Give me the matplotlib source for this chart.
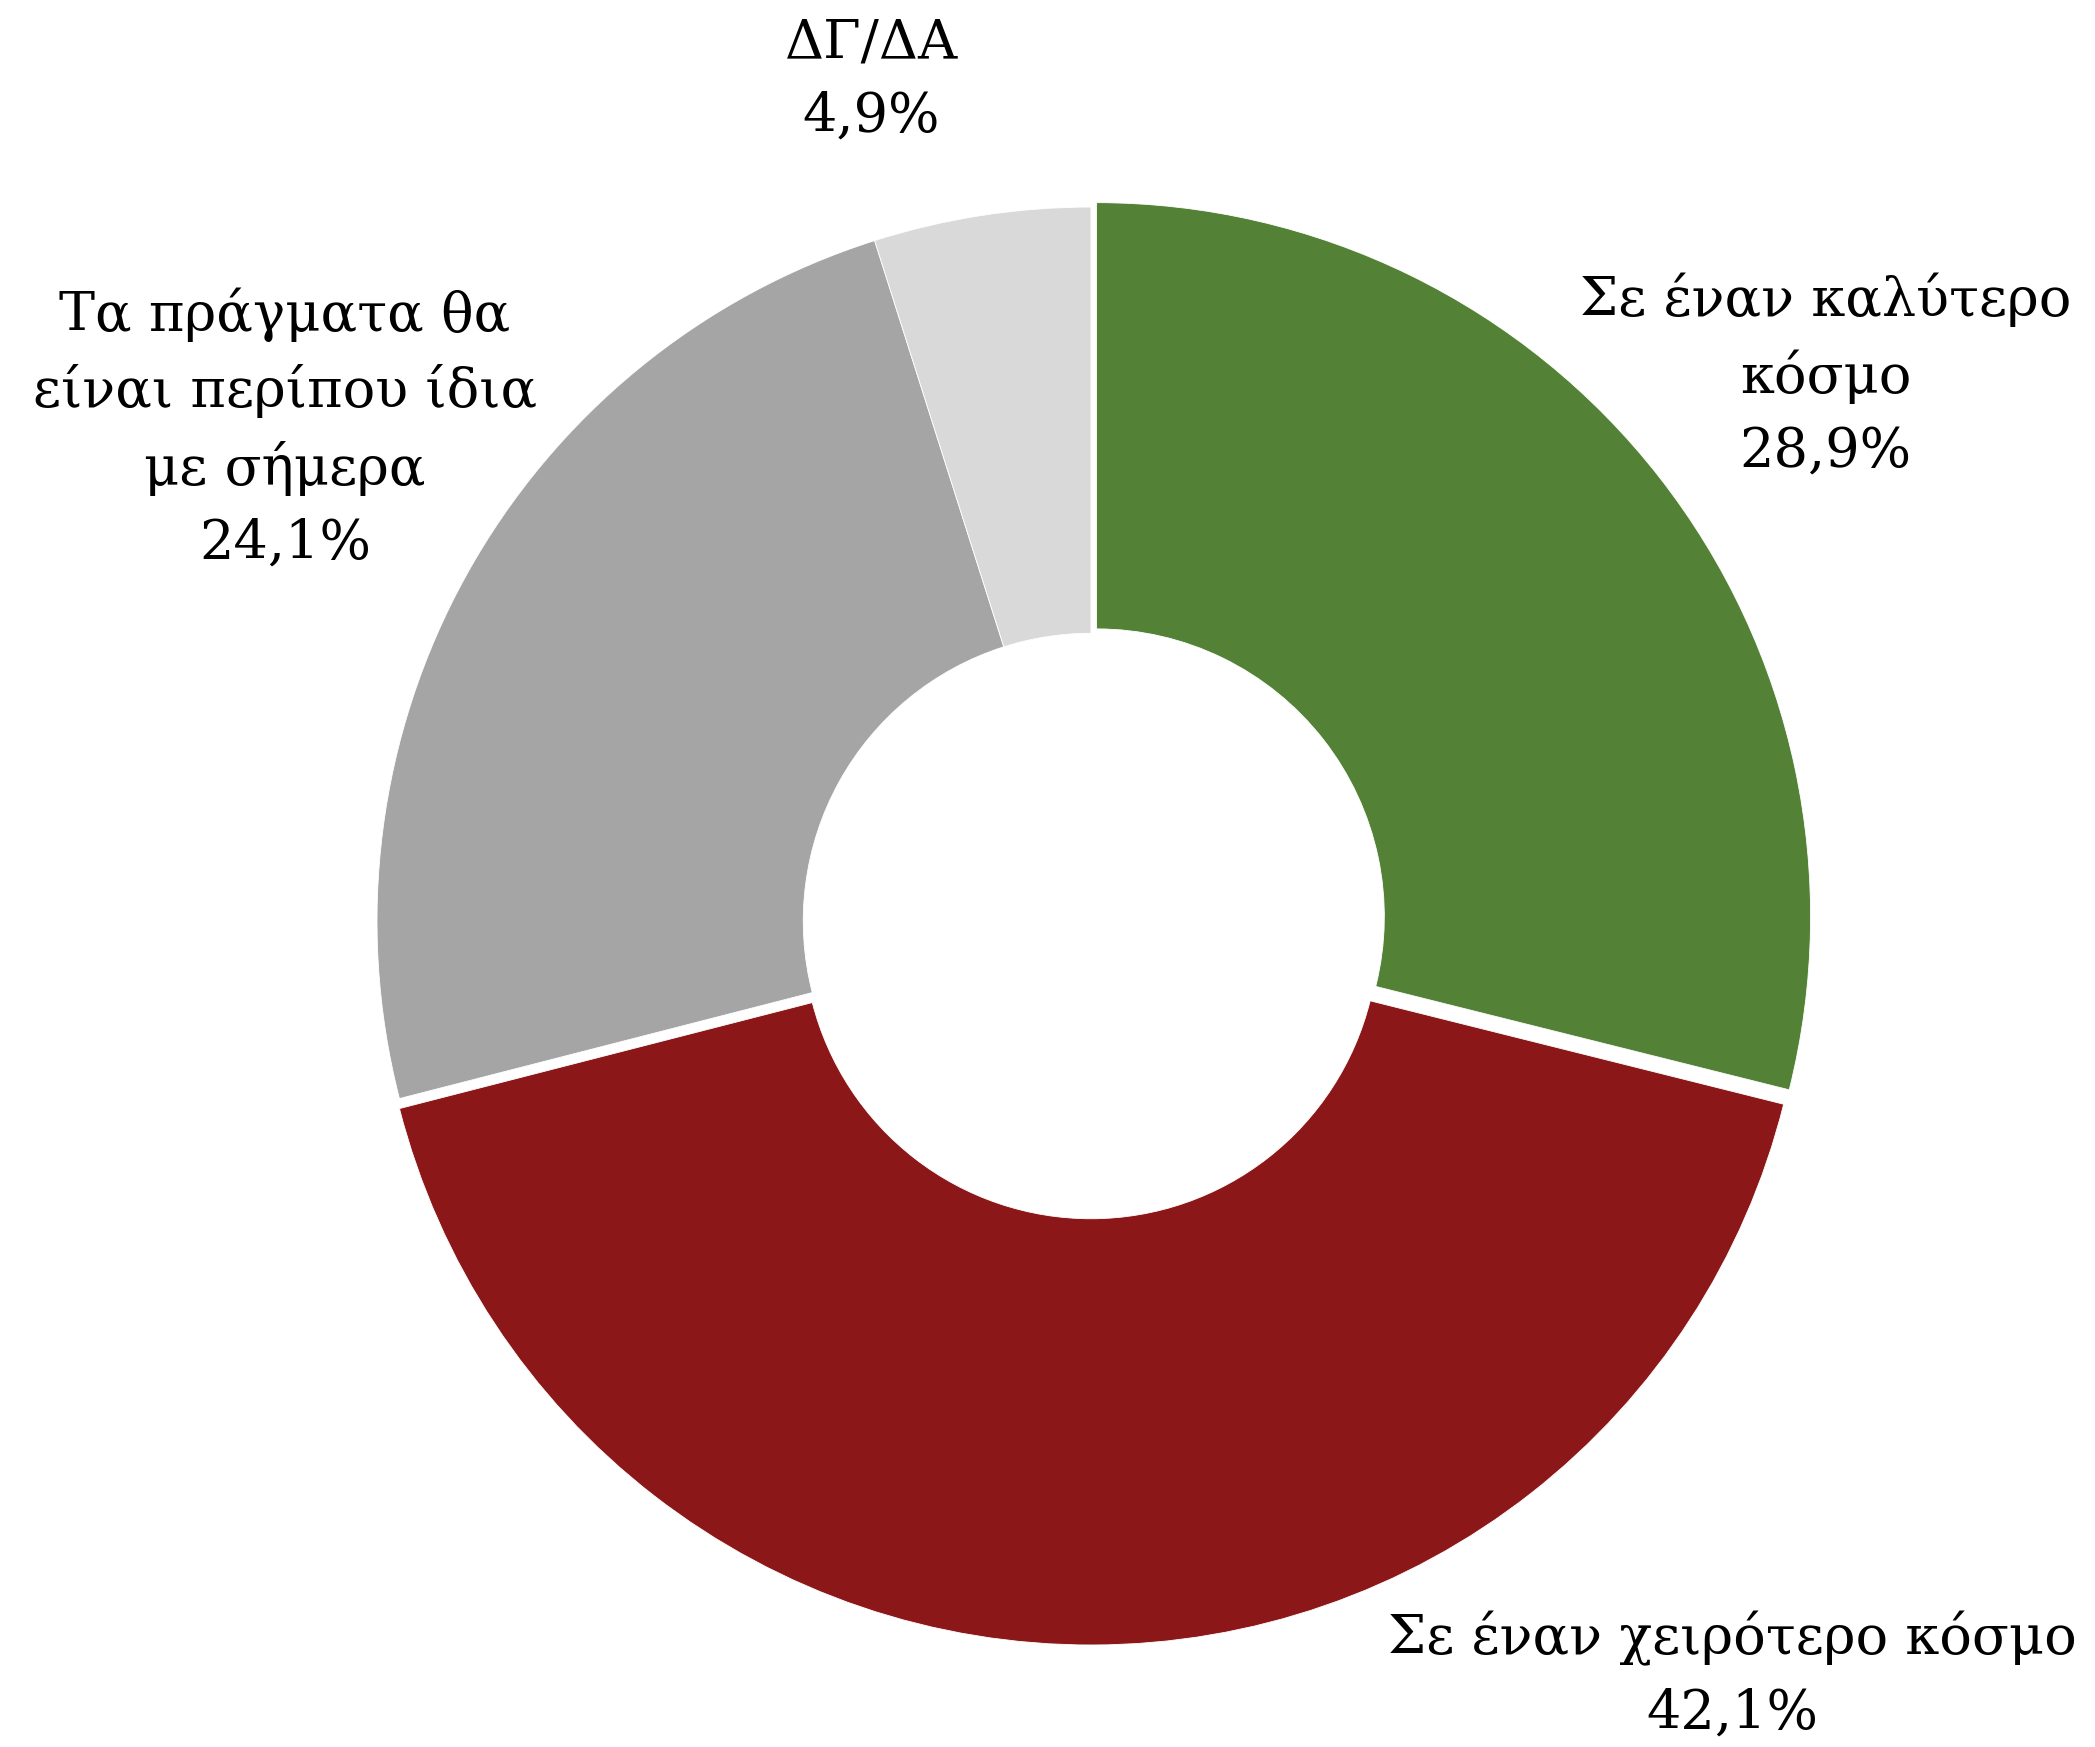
import matplotlib
matplotlib.use("Agg")
import matplotlib.pyplot as plt

labels = ["Σε έναν καλύτερο\nκόσμο", "Σε έναν χειρότερο κόσμο",
          "Τα πράγματα θα\nείναι περίπου ίδια\nμε σήμερα", "ΔΓ/ΔΑ"]
values = [28.9, 42.1, 24.1, 4.9]
value_text = ["28,9%", "42,1%", "24,1%", "4,9%"]
colors = ["#538135", "#8B1718", "#A5A5A5", "#D9D9D9"]
explode = [0.010, 0.014, 0.0, 0.0]

plt.rcParams['font.family'] = ['DejaVu Serif']

fig = plt.figure(figsize=(20.95, 17.47), dpi=100)
ax = fig.add_axes([0.17995, 0.0641, 0.6816, 0.8174])
ax.pie(values, colors=colors, startangle=90, counterclock=False,
       explode=explode, radius=1.0,
       wedgeprops=dict(width=0.597, edgecolor="white", linewidth=0.6))
ax.set_xlim(-1, 1)
ax.set_ylim(-1, 1)
ax.set_aspect("equal")
ax.axis("off")

label_pos = [(1.029, 0.765), (0.899, -1.056), (-1.129, 0.690), (-0.308, 1.178)]
for lab, vt, (x, y) in zip(labels, value_text, label_pos):
    ax.text(x, y, lab + "\n" + vt, ha="center", va="center",
            fontsize=39, linespacing=1.52, color="black")

fig.savefig("out.png", dpi=100)
